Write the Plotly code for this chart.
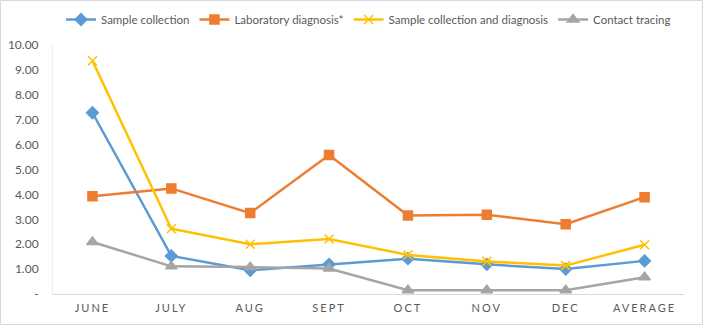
import plotly.graph_objects as go

months = ["JUNE", "JULY", "AUG", "SEPT", "OCT", "NOV", "DEC", "AVERAGE"]
sample_collection = [7.28, 1.53, 0.95, 1.19, 1.42, 1.19, 1.00, 1.33]
laboratory_diagnosis = [3.93, 4.24, 3.25, 5.58, 3.15, 3.18, 2.80, 3.89]
sample_and_diagnosis = [9.37, 2.62, 2.00, 2.21, 1.57, 1.31, 1.14, 1.98]
contact_tracing = [2.09, 1.11, 1.08, 1.02, 0.15, 0.15, 0.15, 0.67]

y_tickvals = [0, 1, 2, 3, 4, 5, 6, 7, 8, 9, 10]
y_ticktext = ["-", "1.00", "2.00", "3.00", "4.00", "5.00", "6.00", "7.00", "8.00", "9.00", "10.00"]

series = [
    ("Sample collection", sample_collection, "#5B9BD5", "diamond", 9),
    ("Laboratory diagnosis*", laboratory_diagnosis, "#ED7D31", "square", 9),
    ("Sample collection and diagnosis", sample_and_diagnosis, "#FFC000", "x-thin-open", 9),
    ("Contact tracing", contact_tracing, "#A5A5A5", "triangle-up", 10),
]

W, H = 706, 325
L, R, T, B = 53, 22, 45, 31
pw, ph = W - L - R, H - T - B

fig = go.Figure()
for name, vals, color, sym, size in series:
    fig.add_trace(go.Scatter(
        x=months, y=vals, name=name, mode="lines+markers",
        line=dict(color=color, width=2.5),
        marker=dict(symbol=sym, size=size, color=color,
                    line=dict(color=color, width=1.5)),
    ))

fig.update_layout(
    width=W, height=H,
    margin=dict(l=L, r=R, t=T, b=B, autoexpand=False),
    paper_bgcolor="white", plot_bgcolor="white",
    font=dict(family="Lato, Open Sans, sans-serif", size=11, color="#595959"),
    showlegend=True,
    legend=dict(orientation="h", x=0.5, xanchor="center",
                y=1 + (T - 5) / ph, yanchor="top", itemwidth=30,
                font=dict(size=11.5, color="#595959"), tracegroupgap=0),
    xaxis=dict(showgrid=False, showline=True, linecolor="#D9D9D9", linewidth=1,
               ticks="", tickfont=dict(size=11, color="#595959"), ticklabelstandoff=4,
               range=[-0.5, 7.5], automargin=False),
    yaxis=dict(range=[0, 10], tickvals=y_tickvals, ticktext=y_ticktext,
               showgrid=False, showline=True, linecolor="#EEEEEE", linewidth=1,
               ticks="", tickfont=dict(size=12, color="#595959"), zeroline=False,
               ticklabelstandoff=11, automargin=False),
    shapes=[dict(type="rect", xref="paper", yref="paper", layer="above",
                 x0=(-L + 0.5) / pw, x1=1 + (R - 3.5) / pw,
                 y0=(-B + 0.5) / ph, y1=1 + (T - 0.5) / ph,
                 line=dict(color="#D9D9D9", width=1))],
)

post = (
    "document.body.style.margin='0';"
    "document.querySelectorAll('.xtick text').forEach(function(t){"
    "t.style.letterSpacing='2px';});"
)
fig.write_html("out.html", post_script=post, config={"displayModeBar": False})
